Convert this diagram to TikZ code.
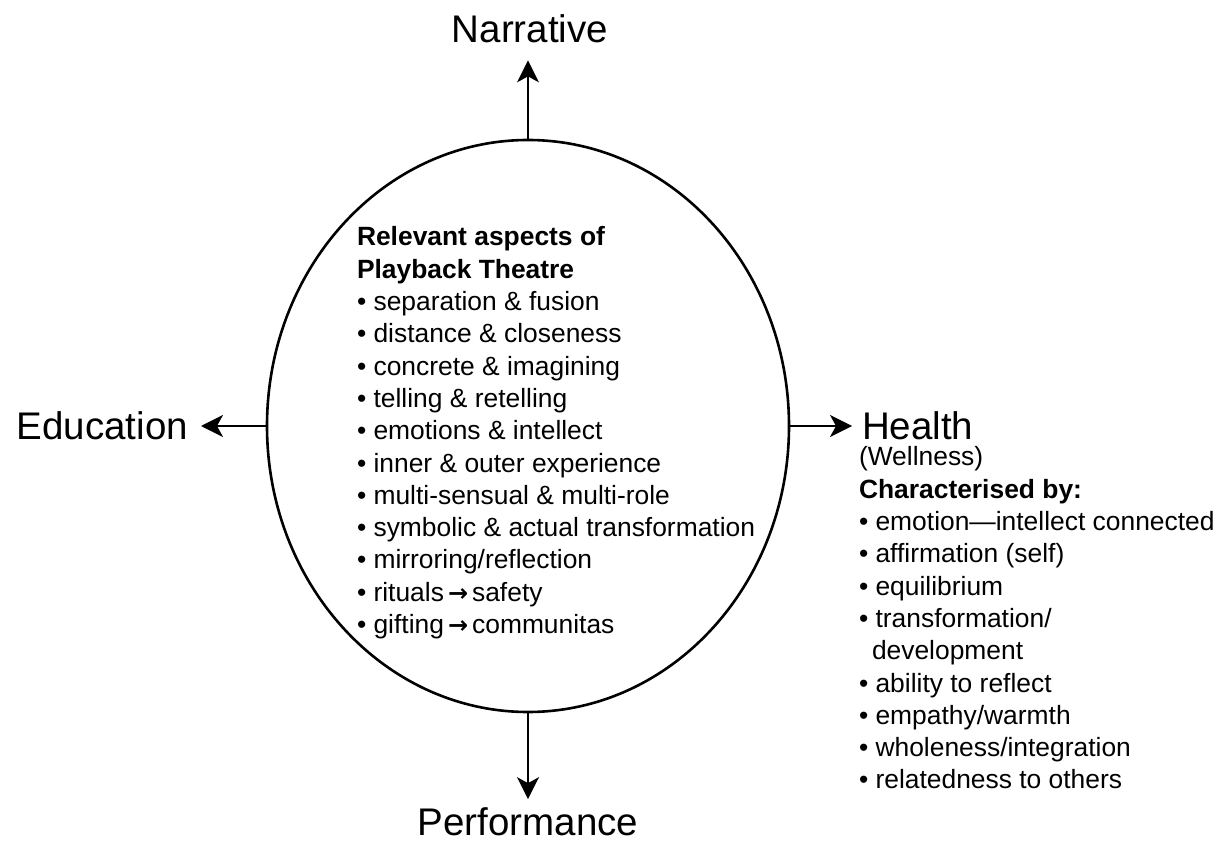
\documentclass[tikz,border=0pt]{standalone}
\usepackage{fontspec}
\setmainfont{Liberation Sans}
\newfontfamily\arrowfont{DejaVu Sans}
\usetikzlibrary{arrows.meta,shapes.geometric}

% small bold arrow used inside the lists
\newcommand{\leadsarrow}{\hspace{4pt}{\arrowfont\bfseries\fontsize{24}{24}\selectfont →}\hspace{4pt}}

\begin{document}
\begin{tikzpicture}[x=1pt,y=-1pt,
  bigtext/.style={font=\fontsize{38.5}{40}\selectfont, inner sep=0pt, outer sep=0pt},
  listtext/.style={font=\fontsize{26.4}{32.3}\selectfont, align=left, inner sep=0pt, outer sep=0pt},
  arr/.style={line width=1.8pt, -{Stealth[length=22pt,width=22pt,inset=6pt]}},
]
\useasboundingbox (0,0) rectangle (1221,842);

% central ellipse
\node[draw, line width=2.6pt, ellipse, minimum width=522pt, minimum height=572pt, inner sep=0pt] (ell) at (528,426) {};

% the four directions
\node[bigtext, anchor=base] (narr) at (530,43) {Narrative};
\node[bigtext, anchor=base] (perf) at (528,835) {Performance};
\node[bigtext, anchor=base east] (edu) at (188,439) {Education};
\node[bigtext, anchor=base west] (health) at (862,439) {Health};

\draw[arr, shorten >=17pt] (ell.north) -- (ell.north |- narr.south);
\draw[arr, shorten >=8pt] (ell.south) -- (ell.south |- perf.north);
\draw[arr, shorten >=13pt] (ell.west) -- (ell.west -| edu.east);
\draw[arr, shorten >=10pt] (ell.east) -- (ell.east -| health.west);

% list inside the ellipse
\node[listtext, anchor=north west] (aspects) at (357,226.8) {%
\textbf{Relevant aspects of}\\
\textbf{Playback Theatre}\\
• separation \& fusion\\
• distance \& closeness\\
• concrete \& imagining\\
• telling \& retelling\\
• emotions \& intellect\\
• inner \& outer experience\\
• multi-sensual \& multi-role\\
• symbolic \& actual transformation\\
• mirroring/reflection\\
• rituals\leadsarrow safety\\
• gifting\leadsarrow communitas};

% characteristics of health
\node[listtext, anchor=north west] (wellness) at (859,446.8) {%
(Wellness)\\
\textbf{Characterised by:}\\
• emotion—intellect connected\\
• affirmation (self)\\
• equilibrium\\
• transformation/\\
\hspace*{13pt}development\\
• ability to reflect\\
• empathy/warmth\\
• wholeness/integration\\
• relatedness to others};
\end{tikzpicture}
\end{document}
